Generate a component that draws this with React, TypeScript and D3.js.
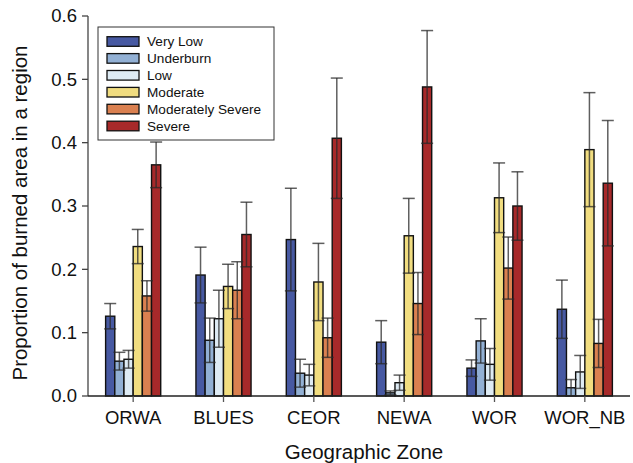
import React from "react";
import * as d3 from "d3";

const zones = ["ORWA", "BLUES", "CEOR", "NEWA", "WOR", "WOR_NB"];
const severityClasses = ["Very Low", "Underburn", "Low", "Moderate", "Moderately Severe", "Severe"];
const classColors = ["#4759a2", "#92b0d4", "#deebf4", "#f1dd80", "#da8050", "#a7292a"];

const veryLow = [0.126, 0.191, 0.247, 0.085, 0.044, 0.137];
const veryLowErr = [0.020, 0.044, 0.081, 0.034, 0.013, 0.046];
const underburn = [0.055, 0.088, 0.036, 0.005, 0.087, 0.013];
const underburnErr = [0.014, 0.035, 0.022, 0.003, 0.035, 0.013];
const low = [0.058, 0.122, 0.033, 0.021, 0.050, 0.038];
const lowErr = [0.014, 0.045, 0.017, 0.012, 0.025, 0.026];
const moderate = [0.236, 0.173, 0.180, 0.253, 0.313, 0.389];
const moderateErr = [0.027, 0.035, 0.061, 0.059, 0.055, 0.090];
const modSevere = [0.158, 0.167, 0.092, 0.146, 0.202, 0.083];
const modSevereErr = [0.024, 0.045, 0.031, 0.049, 0.049, 0.038];
const severe = [0.365, 0.255, 0.407, 0.488, 0.300, 0.336];
const severeErr = [0.036, 0.051, 0.095, 0.089, 0.054, 0.099];

const yTicks = [0, 0.1, 0.2, 0.3, 0.4, 0.5, 0.6];

const seriesValues = [veryLow, underburn, low, moderate, modSevere, severe];
const seriesErrors = [veryLowErr, underburnErr, lowErr, moderateErr, modSevereErr, severeErr];

const W = 633;
const H = 463;
const left = 88;
const right = 630;
const top = 16;
const bottom = 396;
const FONT = "'Liberation Sans', Arial, sans-serif";

export default function App() {
  const y = d3.scaleLinear().domain([0, 0.6]).range([bottom, top]);
  const x = d3.scaleBand<string>().domain(zones).range([left, right]).paddingInner(0.39).paddingOuter(0.195);
  const xi = d3.scaleBand<string>().domain(severityClasses).range([0, x.bandwidth()]);
  const bw = xi.bandwidth();
  const capW = 12;

  const bars: any[] = [];
  const errs: any[] = [];
  zones.forEach((z, zi) => {
    severityClasses.forEach((s, si) => {
      const v = seriesValues[si][zi];
      const e = seriesErrors[si][zi];
      const bx = (x(z) as number) + (xi(s) as number);
      bars.push(
        <rect key={`b-${z}-${s}`} x={bx} y={y(v)} width={bw} height={y(0) - y(v)}
          fill={classColors[si]} stroke="#111" strokeWidth={1.4} />
      );
      const cx = bx + bw / 2;
      const lo = Math.max(0, v - e);
      errs.push(
        <g key={`e-${z}-${s}`} stroke="#2a2a2a" strokeOpacity={0.75} strokeWidth={1.5}>
          <line x1={cx} x2={cx} y1={y(v + e)} y2={y(lo)} />
          <line x1={cx - capW / 2} x2={cx + capW / 2} y1={y(v + e)} y2={y(v + e)} />
          <line x1={cx - capW / 2} x2={cx + capW / 2} y1={y(lo)} y2={y(lo)} />
        </g>
      );
    });
  });

  const legX = 98;
  const legY = 27;
  const legRowY = (i: number) => 41.5 + i * 16.9;

  return (
    <svg width={W} height={H} style={{ position: "absolute", left: 0, top: 0, background: "#fff" }}
      fontFamily={FONT}>
      <rect x={0} y={0} width={W} height={H} fill="#fff" />
      {bars}
      {errs}
      {/* y axis */}
      <line x1={left} x2={left} y1={top} y2={bottom} stroke="#444" strokeWidth={1.3} />
      {yTicks.map((t) => (
        <g key={`yt-${t}`}>
          <line x1={left - 6} x2={left} y1={y(t)} y2={y(t)} stroke="#444" strokeWidth={1.3} />
          <text x={left - 11} y={y(t)} dy="0.35em" textAnchor="end" fontSize={18.5} fill="#111">
            {t.toFixed(1)}
          </text>
        </g>
      ))}
      {/* x axis */}
      <line x1={left} x2={right} y1={bottom} y2={bottom} stroke="#222" strokeWidth={1.4} />
      {zones.map((z) => {
        const cx = (x(z) as number) + x.bandwidth() / 2;
        return (
          <g key={`xt-${z}`}>
            <line x1={cx} x2={cx} y1={bottom} y2={bottom + 6} stroke="#555" strokeWidth={1.3} />
            <text x={cx} y={424} textAnchor="middle" fontSize={18.5} fill="#111">{z}</text>
          </g>
        );
      })}
      <text x={364} y={459} textAnchor="middle" fontSize={20.5} fill="#111">Geographic Zone</text>
      <text transform={`translate(27, ${(top + bottom) / 2 + 7}) rotate(-90)`} textAnchor="middle"
        fontSize={20.5} fill="#111">Proportion of burned area in a region</text>
      {/* legend */}
      <rect x={legX} y={legY} width={176} height={113} fill="#fff" stroke="#333" strokeWidth={1} />
      {severityClasses.map((s, i) => (
        <g key={`lg-${s}`}>
          <rect x={107} y={legRowY(i) - 4.8} width={32} height={9.6} fill={classColors[i]}
            stroke="#111" strokeWidth={1.3} />
          <text x={147} y={legRowY(i)} dy="0.35em" fontSize={13.6} fill="#111">{s}</text>
        </g>
      ))}
    </svg>
  );
}
